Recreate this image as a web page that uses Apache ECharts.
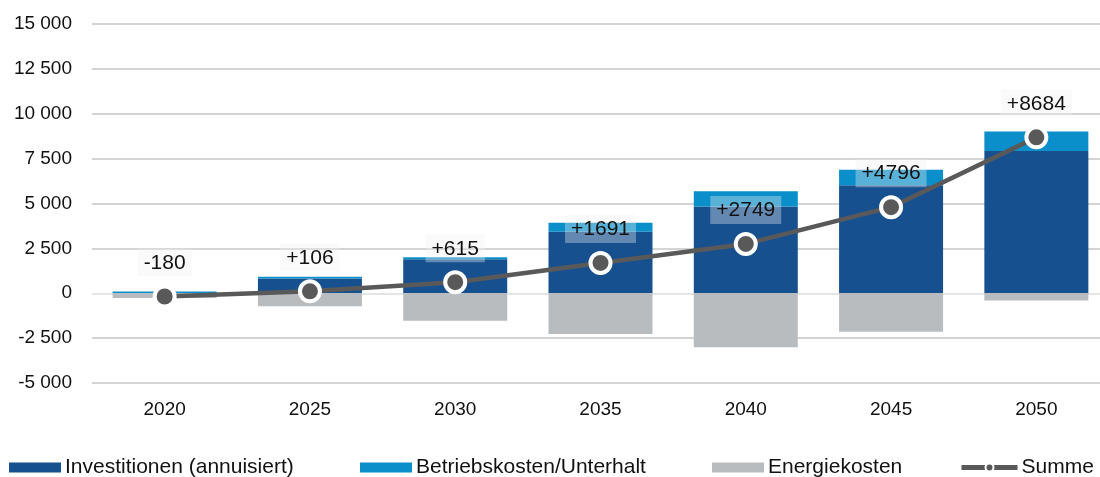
<!DOCTYPE html>
<html>
<head>
<meta charset="utf-8">
<script src="https://cdn.jsdelivr.net/npm/echarts@6/dist/echarts.min.js"></script>
<style>
  html, body { margin: 0; padding: 0; background: #fff; overflow: hidden; }
  /* plot area runs past the right edge of the window, as in the original */
  #chart { width: 1109px; height: 477px; }
</style>
</head>
<body>
<div id="chart"></div>
<script>
// Jahre und Werte
var years = ['2020', '2025', '2030', '2035', '2040', '2045', '2050'];
var invest = [10, 820, 1890, 3430, 4830, 6020, 7930];
var betrieb = [90, 95, 110, 500, 850, 860, 1075];
var energie = [-260, -724, -1526, -2267, -3008, -2150, -407];
var summe = [-180, 106, 615, 1691, 2749, 4796, 8684];

var names = ['Investitionen (annuisiert)', 'Betriebskosten/Unterhalt', 'Energiekosten', 'Summe'];
var legendLeft = [9, 360, 712, 959];

var font = "'Liberation Sans', Arial, sans-serif";

var fmt = function (v) {
    var s = String(Math.abs(v));
    s = s.replace(/\B(?=(\d{3})+(?!\d))/g, ' ');
    return (v < 0 ? '-' : '') + s;
};

var gridColors = ['#c6c6c6', '#c6c6c6', '#dcdcdc', '#c6c6c6', '#c6c6c6', '#c6c6c6', '#c6c6c6', '#c6c6c6', '#c6c6c6'];

var myChart = echarts.init(document.getElementById('chart'));

var legends = names.map(function (n, i) {
    var lg = {
        data: [{ name: n, icon: i === 3 ? undefined : 'rect' }],
        left: legendLeft[i],
        top: 457,
        padding: 0,
        itemWidth: i === 3 ? 56 : 52,
        itemHeight: 10,
        itemGap: 0,
        textStyle: { fontFamily: font, fontSize: 21, color: '#111', padding: [0, 0, 0, -1] }
    };
    if (i === 3) {
        lg.lineStyle = { width: 5, color: '#595959' };
        lg.itemStyle = { color: '#595959', borderColor: '#fff', borderWidth: 2 };
    }
    return lg;
});

var option = {
    backgroundColor: '#fff',
    animation: false,
    textStyle: { fontFamily: font },
    legend: legends,
    grid: { left: 92, right: 0, top: 24, bottom: 94 },
    xAxis: {
        type: 'category',
        data: years,
        axisLine: { show: false },
        axisTick: { show: false },
        axisLabel: { fontFamily: font, fontSize: 19, color: '#111', margin: 17 }
    },
    yAxis: {
        type: 'value',
        min: -5000,
        max: 15000,
        interval: 2500,
        axisLine: { show: false },
        axisTick: { show: false },
        axisLabel: { fontFamily: font, fontSize: 19, color: '#111', margin: 20, formatter: fmt },
        splitLine: { lineStyle: { color: gridColors, width: 1.5 } }
    },
    series: [
        {
            name: names[0],
            type: 'bar',
            stack: 'k',
            barWidth: 104,
            data: invest,
            itemStyle: { color: '#17508f' }
        },
        {
            name: names[1],
            type: 'bar',
            stack: 'k',
            data: betrieb,
            itemStyle: { color: '#0a8fcb' }
        },
        {
            name: names[2],
            type: 'bar',
            stack: 'k',
            data: energie,
            itemStyle: { color: '#b8bcbf' }
        },
        {
            name: names[3],
            type: 'line',
            data: summe,
            symbol: 'circle',
            symbolSize: 20,
            z: 5,
            lineStyle: { color: '#595959', width: 4.5 },
            itemStyle: { color: '#595959', borderColor: '#fff', borderWidth: 4 },
            label: {
                show: true,
                position: 'top',
                distance: 8,
                fontFamily: font,
                fontSize: 21,
                color: '#111',
                backgroundColor: 'rgba(240,240,240,0.35)',
                padding: [4, 6, 3, 6],
                formatter: function (p) {
                    return p.value > 0 ? '+' + p.value : String(p.value);
                }
            }
        }
    ]
};
myChart.setOption(option);
</script>
</body>
</html>
